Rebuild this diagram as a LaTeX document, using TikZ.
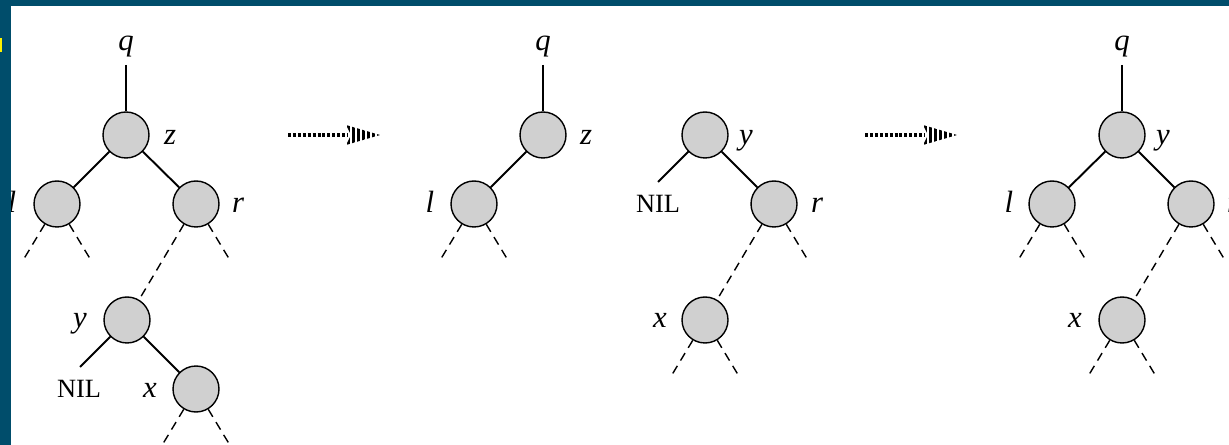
\documentclass[tikz,border=0pt]{standalone}
\usepackage{fontspec}
\setmainfont{Liberation Serif}
\definecolor{nodegray}{RGB}{208,208,208}
\definecolor{framecol}{RGB}{0,77,107}
\begin{document}
\begin{tikzpicture}[x=0.02cm,y=-0.02cm,
  nd/.style={circle,draw,line width=0.8pt,fill=nodegray,minimum size=0.92cm,inner sep=0pt},
  lab/.style={font=\fontsize{17.5}{20}\selectfont\itshape,anchor=base,inner sep=0pt},
  nillab/.style={font=\fontsize{15}{17}\selectfont,anchor=base,inner sep=0pt},
  solidedge/.style={line width=1.1pt},
  dedge/.style={line width=0.8pt,dash pattern=on 5pt off 3.5pt},
  qedge/.style={line width=0.8pt,shorten <=4pt},
  dotline/.style={line width=2.3pt,dash pattern=on 1.7pt off 1.1pt},
]
\useasboundingbox (0,0) rectangle (1229,445);
\fill[framecol] (0,0) rectangle (1229,445);
\fill[white] (11,6) rectangle (1229,445);

% ---------- tree 1 ----------
\node[lab] (q1) at (126,51) {q};
\node[nd] (z1) at (126,135) {};
\node[lab] (z1l) at (170,145) {z};
\node[nd] (l1) at (57,204) {};
\node[lab] (l1l) at (12,213) {l};
\node[nd] (r1) at (196,204) {};
\node[lab] (r1l) at (238,213) {r};
\node[nd] (y1) at (127,320) {};
\node[lab] (y1l) at (80,328) {y};
\node[nd] (x1) at (196,389) {};
\node[lab] (x1l) at (150,398) {x};
\node[nillab] (nil1) at (79,398) {NIL};
\coordinate (nil1e) at (80,367);
\coordinate (l1a) at (22,262);
\coordinate (l1b) at (92,262);
\coordinate (r1b) at (231,262);
\coordinate (x1a) at (161,447);
\coordinate (x1b) at (231,447);
\draw[qedge] (q1) -- (z1);
\draw[solidedge] (z1) -- (l1);
\draw[solidedge] (z1) -- (r1);
\draw[solidedge] (y1) -- (x1);
\draw[solidedge] (y1) -- (nil1e);
\draw[dedge] (l1) -- (l1a);
\draw[dedge] (l1) -- (l1b);
\draw[dedge] (r1) -- (y1);
\draw[dedge] (r1) -- (r1b);
\draw[dedge] (x1) -- (x1a);
\draw[dedge] (x1) -- (x1b);

% ---------- tree 2 ----------
\node[lab] (q2) at (543,51) {q};
\node[nd] (z2) at (543,135) {};
\node[lab] (z2l) at (586,145) {z};
\node[nd] (l2) at (474,204) {};
\node[lab] (l2l) at (430,213) {l};
\coordinate (l2a) at (439,262);
\coordinate (l2b) at (509,262);
\draw[qedge] (q2) -- (z2);
\draw[solidedge] (z2) -- (l2);
\draw[dedge] (l2) -- (l2a);
\draw[dedge] (l2) -- (l2b);

% ---------- tree 3 ----------
\node[nd] (y3) at (705,135) {};
\node[lab] (y3l) at (746,145) {y};
\node[nillab] (nil3) at (658,213) {NIL};
\coordinate (nil3e) at (658,182);
\node[nd] (r3) at (774,204) {};
\node[lab] (r3l) at (817,213) {r};
\node[nd] (x3) at (705,320) {};
\node[lab] (x3l) at (660,328) {x};
\coordinate (r3b) at (809,262);
\coordinate (x3a) at (670,378);
\coordinate (x3b) at (740,378);
\draw[solidedge] (y3) -- (nil3e);
\draw[solidedge] (y3) -- (r3);
\draw[dedge] (r3) -- (x3);
\draw[dedge] (r3) -- (r3b);
\draw[dedge] (x3) -- (x3a);
\draw[dedge] (x3) -- (x3b);

% ---------- tree 4 ----------
\node[lab] (q4) at (1122,51) {q};
\node[nd] (y4) at (1122,135) {};
\node[lab] (y4l) at (1163,145) {y};
\node[nd] (l4) at (1052,204) {};
\node[lab] (l4l) at (1009,213) {l};
\node[nd] (r4) at (1191,204) {};
\node[lab] (r4l) at (1233,213) {r};
\node[nd] (x4) at (1122,320) {};
\node[lab] (x4l) at (1075,328) {x};
\coordinate (l4a) at (1017,262);
\coordinate (l4b) at (1087,262);
\coordinate (r4b) at (1226,262);
\coordinate (x4a) at (1087,378);
\coordinate (x4b) at (1157,378);
\draw[qedge] (q4) -- (y4);
\draw[solidedge] (y4) -- (l4);
\draw[solidedge] (y4) -- (r4);
\draw[dedge] (l4) -- (l4a);
\draw[dedge] (l4) -- (l4b);
\draw[dedge] (r4) -- (x4);
\draw[dedge] (r4) -- (r4b);
\draw[dedge] (x4) -- (x4a);
\draw[dedge] (x4) -- (x4b);

% ---------- arrows ----------
\foreach \ax/\nm in {288/a, 865/b} {
  \begin{scope}[shift={(\ax,135)}]
    \coordinate (\nm s) at (0,0);
    \coordinate (\nm e) at (60,0);
    \draw[dotline] (\nm s) -- (\nm e);
    \begin{scope}
      \clip (58,-10) -- (92,0) -- (58,10) -- (63,0) -- cycle;
      \foreach \s in {0,...,6} \fill (59+\s*5,-12) rectangle ++(2.8,24);
    \end{scope}
  \end{scope}
}

% ---------- frame overlay ----------
\fill[framecol] (0,0) rectangle (11,445);
\fill[yellow] (0,38) rectangle (2,52);
\end{tikzpicture}
\end{document}
